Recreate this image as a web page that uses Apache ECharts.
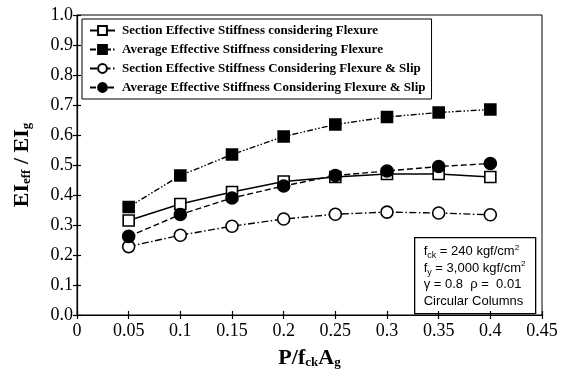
<!DOCTYPE html>
<html>
<head>
<meta charset="utf-8">
<script src="https://cdn.jsdelivr.net/npm/echarts@6/dist/echarts.min.js"></script>
<style>
  html, body { margin: 0; padding: 0; background: #fff; }
  #chart { width: 561px; height: 374px; }
</style>
</head>
<body>
<div id="chart"></div>
<script>
// Axial load ratio P/(fck·Ag)
const loadRatio = [0.05, 0.1, 0.15, 0.2, 0.25, 0.3, 0.35, 0.4];

// EIeff / EIg for each stiffness definition
const sectionFlexure     = [0.315, 0.37, 0.41, 0.445, 0.46, 0.47, 0.47, 0.46];
const averageFlexure     = [0.36, 0.465, 0.535, 0.595, 0.635, 0.66, 0.675, 0.685];
const sectionFlexureSlip = [0.228, 0.266, 0.296, 0.32, 0.336, 0.343, 0.34, 0.334];
const averageFlexureSlip = [0.262, 0.335, 0.39, 0.43, 0.465, 0.48, 0.495, 0.505];

const seriesNames = [
  'Section Effective Stiffness considering Flexure',
  'Average Effective Stiffness considering Flexure',
  'Section Effective Stiffness Considering Flexure & Slip',
  'Average Effective Stiffness Considering Flexure & Slip'
];

const xTicks = { min: 0, max: 0.45, step: 0.05 };
const yTicks = { min: 0, max: 1.0, step: 0.1 };

const pair = (xs, ys) => xs.map((x, i) => [x, ys[i]]);
const serif = '"Liberation Serif", "DejaVu Serif", serif';
const sans = '"Liberation Sans", Arial, sans-serif';

function lineSeries(name, values, symbol, filled, dash) {
  return {
    name: name,
    type: 'line',
    data: pair(loadRatio, values),
    symbol: symbol,
    symbolSize: symbol === 'rect' ? 11 : 12,
    lineStyle: { color: '#000', width: 1.4, type: dash },
    itemStyle: { color: filled ? '#000' : '#fff', borderColor: '#000', borderWidth: 1.6 },
    emphasis: { disabled: true },
    animation: false,
    z: 3
  };
}

const chart = echarts.init(document.getElementById('chart'), null, { renderer: 'canvas' });

const tickLabelStyle = { color: '#000', fontFamily: serif, fontSize: 18 };
const titleRich = {
  b: { fontFamily: serif, fontWeight: 'bold', fontSize: 22, color: '#000', verticalAlign: 'bottom', lineHeight: 24 },
  s: { fontFamily: serif, fontWeight: 'bold', fontSize: 13, color: '#000', verticalAlign: 'bottom', lineHeight: 18 }
};

chart.setOption({
  backgroundColor: '#fff',
  animation: false,
  grid: {
    left: 77, right: 19, top: 15, bottom: 52,
    show: true, borderColor: '#000', borderWidth: 1, backgroundColor: 'transparent'
  },
  legend: {
    orient: 'vertical',
    left: 82, top: 19,
    padding: [5, 6, 5, 7],
    itemGap: 6,
    itemWidth: 25,
    itemHeight: 11,
    backgroundColor: '#fff',
    borderColor: '#000',
    borderWidth: 1,
    selectedMode: false,
    textStyle: { color: '#000', fontFamily: serif, fontWeight: 'bold', fontSize: 13, padding: [0, 0, 0, 2] },
    data: seriesNames
  },
  xAxis: [{
    type: 'value',
    min: xTicks.min, max: xTicks.max, interval: xTicks.step,
    axisLine: { show: true, onZero: false, lineStyle: { color: '#000', width: 1.2 } },
    axisTick: { show: true, inside: false, length: 4, lineStyle: { color: '#000', width: 1.2 } },
    axisLabel: Object.assign({ margin: 7 }, tickLabelStyle),
    splitLine: { show: false },
    name: '{b|P/f}{s|ck}{b|A}{s|g}',
    nameLocation: 'middle',
    nameGap: 30,
    nameTextStyle: { rich: titleRich }
  }, {
    // inner half of the crossing x ticks
    type: 'value',
    position: 'bottom',
    min: xTicks.min, max: xTicks.max, interval: xTicks.step,
    axisLine: { show: false },
    axisTick: { show: true, inside: true, length: 4, lineStyle: { color: '#000', width: 1.2 } },
    axisLabel: { show: false },
    splitLine: { show: false }
  }],
  yAxis: [{
    type: 'value',
    min: yTicks.min, max: yTicks.max, interval: yTicks.step,
    axisLine: { show: true, onZero: false, lineStyle: { color: '#000', width: 1.2 } },
    axisTick: { show: true, inside: false, length: 4, lineStyle: { color: '#000', width: 1.2 } },
    axisLabel: Object.assign({ margin: 4, formatter: v => v.toFixed(1) }, tickLabelStyle),
    splitLine: { show: false },
    name: '{b|EI}{s|eff}{b| / EI}{s|g}',
    nameLocation: 'middle',
    nameGap: 44,
    nameRotate: 90,
    nameTextStyle: { rich: titleRich }
  }, {
    // inner half of the crossing y ticks
    type: 'value',
    position: 'left',
    min: yTicks.min, max: yTicks.max, interval: yTicks.step,
    axisLine: { show: false },
    axisTick: { show: true, inside: true, length: 4, lineStyle: { color: '#000', width: 1.2 } },
    axisLabel: { show: false },
    splitLine: { show: false }
  }],
  series: [
    lineSeries(seriesNames[0], sectionFlexure, 'rect', false, 'solid'),
    lineSeries(seriesNames[1], averageFlexure, 'rect', true, [6, 2, 1.5, 2, 1.5, 2]),
    lineSeries(seriesNames[2], sectionFlexureSlip, 'circle', false, [7, 2.5, 1.5, 2.5]),
    lineSeries(seriesNames[3], averageFlexureSlip, 'circle', true, [6, 3])
  ],
  graphic: [{
    type: 'group',
    left: 414, top: 237,
    children: [{
      type: 'rect',
      shape: { x: 0, y: 0, width: 121, height: 76 },
      style: { fill: '#fff', stroke: '#000', lineWidth: 1.3 }
    }, {
      type: 'text',
      x: 9, y: 6,
      style: {
        text: 'f{sb|ck} = 240 kgf/cm{sp|2}\nf{sb|y} = 3,000 kgf/cm{sp|2}\nγ = 0.8  ρ =  0.01\nCircular Columns',
        fontFamily: sans, fontSize: 13, lineHeight: 16.5, fill: '#000',
        rich: {
          sb: { fontFamily: sans, fontSize: 9, verticalAlign: 'bottom', lineHeight: 16, fill: '#000' },
          sp: { fontFamily: sans, fontSize: 8, verticalAlign: 'top', lineHeight: 16, fill: '#000' }
        }
      }
    }]
  }]
});
</script>
</body>
</html>
